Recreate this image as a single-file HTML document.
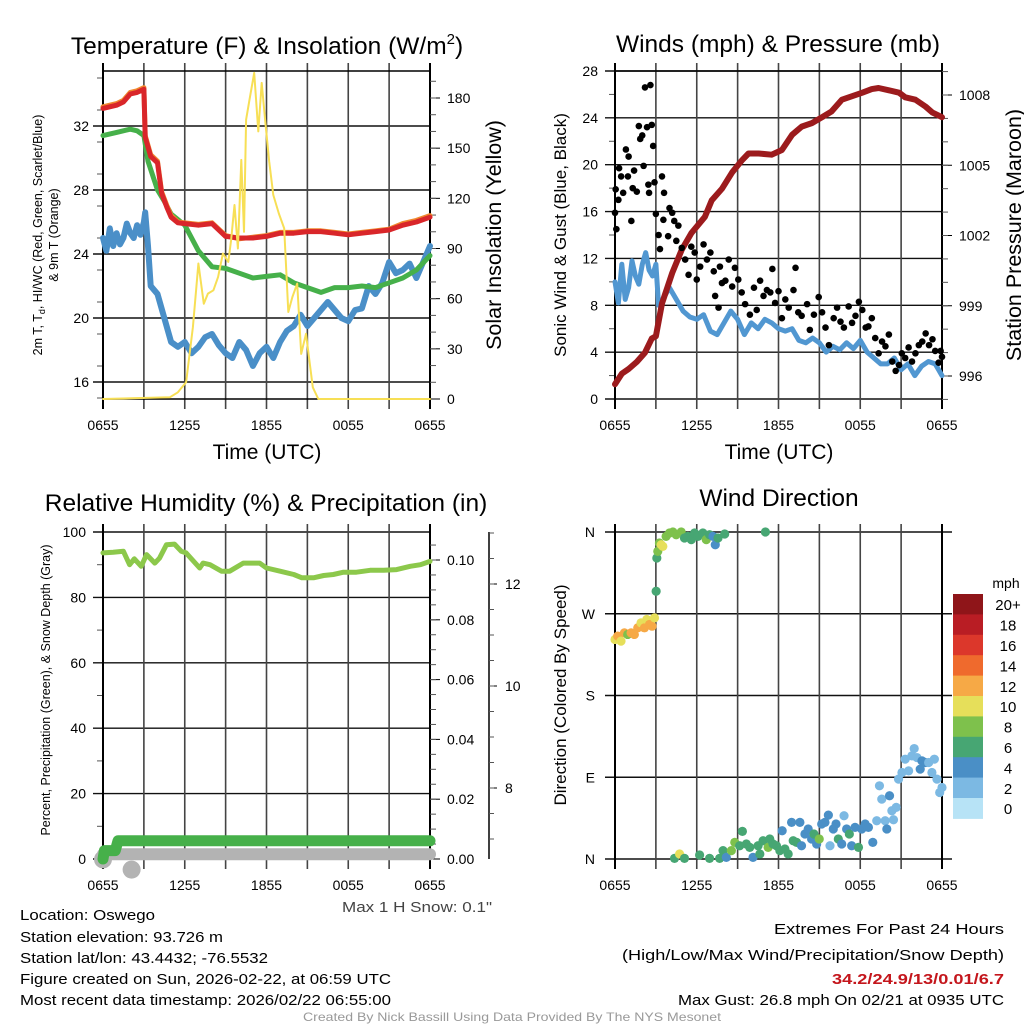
<!DOCTYPE html>
<html><head><meta charset="utf-8">
<style>
html,body{margin:0;padding:0;background:#fff;}
svg{display:block;font-family:"Liberation Sans",sans-serif;}
</style></head>
<body>
<svg id="fig" width="1024" height="1024" viewBox="0 0 1024 1024" xmlns="http://www.w3.org/2000/svg">
<rect x="0" y="0" width="1024" height="1024" fill="#fff"/>
<g id="layer"></g>
<text x="267" y="54" font-size="24.5" text-anchor="middle">Temperature (F) &amp; Insolation (W/m<tspan font-size="15" dy="-10">2</tspan><tspan dy="10">)</tspan></text>
<text x="778" y="52" font-size="24.5" text-anchor="middle">Winds (mph) &amp; Pressure (mb)</text>
<text x="266" y="511" font-size="24.5" text-anchor="middle">Relative Humidity (%) &amp; Precipitation (in)</text>
<text x="779" y="506" font-size="24.5" text-anchor="middle">Wind Direction</text>
<text x="267" y="459" font-size="21" text-anchor="middle">Time (UTC)</text>
<text x="779" y="459" font-size="21" text-anchor="middle">Time (UTC)</text>
<text transform="translate(42,235) rotate(-90)" font-size="12.5" text-anchor="middle">2m T, T<tspan font-size="9" dy="3">d</tspan><tspan dy="-3">, HI/WC (Red, Green, Scarlet/Blue)</tspan></text>
<text transform="translate(58,235) rotate(-90)" font-size="12.5" text-anchor="middle">&amp; 9m T (Orange)</text>
<text transform="translate(501,235) rotate(-90)" font-size="21.5" text-anchor="middle">Solar Insolation (Yellow)</text>
<text transform="translate(566,235) rotate(-90)" font-size="17" text-anchor="middle">Sonic Wind &amp; Gust (Blue, Black)</text>
<text transform="translate(1021,235) rotate(-90)" font-size="21.5" text-anchor="middle">Station Pressure (Maroon)</text>
<text transform="translate(50,690) rotate(-90)" font-size="12.5" text-anchor="middle">Percent, Precipitation (Green), &amp; Snow Depth (Gray)</text>
<text transform="translate(566,695) rotate(-90)" font-size="17" text-anchor="middle">Direction (Colored By Speed)</text>
<text x="1006" y="588" font-size="14" text-anchor="middle">mph</text>
<g font-size="14.5" fill="#000">
<text x="20" y="920" textLength="135" lengthAdjust="spacingAndGlyphs">Location: Oswego</text>
<text x="20" y="942" textLength="203" lengthAdjust="spacingAndGlyphs">Station elevation: 93.726 m</text>
<text x="20" y="963" textLength="248" lengthAdjust="spacingAndGlyphs">Station lat/lon: 43.4432; -76.5532</text>
<text x="20" y="984" textLength="371" lengthAdjust="spacingAndGlyphs">Figure created on Sun, 2026-02-22, at 06:59 UTC</text>
<text x="20" y="1005" textLength="371" lengthAdjust="spacingAndGlyphs">Most recent data timestamp: 2026/02/22 06:55:00</text>
<text x="774" y="934" textLength="230" lengthAdjust="spacingAndGlyphs">Extremes For Past 24 Hours</text>
<text x="622" y="960" textLength="382" lengthAdjust="spacingAndGlyphs">(High/Low/Max Wind/Precipitation/Snow Depth)</text>
<text x="832" y="984" textLength="172" lengthAdjust="spacingAndGlyphs" fill="#c4161c" font-weight="bold">34.2/24.9/13/0.01/6.7</text>
<text x="678" y="1005" textLength="326" lengthAdjust="spacingAndGlyphs">Max Gust: 26.8 mph On 02/21 at 0935 UTC</text>
<text x="342" y="912" textLength="150" lengthAdjust="spacingAndGlyphs" fill="#444">Max 1 H Snow: 0.1"</text>
</g>
<text x="303" y="1021" font-size="12" fill="#999" textLength="418" lengthAdjust="spacingAndGlyphs">Created By Nick Bassill Using Data Provided By The NYS Mesonet</text>
</svg>
<script>
// ---------- DATA ----------
const timeTicks = ["0655","1255","1855","0055","0655"];
// Temperature panel
const tRedH = [0,1,1.5,2,2.5,3,3.1,3.5,4,4.3,4.7,5,5.5,6,7,8,9,10,11,12,13,14,15,16,17,18,19,20,21,22,23,24];
const tRed  = [33.1,33.3,33.5,34.0,34.1,34.3,31.3,30.1,29.7,27.8,26.9,26.3,25.95,25.9,25.8,25.9,25.1,25.0,25.0,25.1,25.3,25.3,25.4,25.4,25.3,25.2,25.3,25.4,25.5,25.8,26.0,26.3];
const tOrange = [33.2,33.4,33.6,34.1,34.2,34.4,31.4,30.2,29.8,27.9,27.0,26.4,26.0,25.95,25.85,25.95,25.15,24.95,25.05,25.15,25.35,25.35,25.45,25.45,25.35,25.25,25.35,25.45,25.55,25.9,26.1,26.4];
const tGreenH = [0,1,2,2.5,3,3.3,4,4.5,5,6,7,8,9,10,11,12,13,14,15,16,17,18,19,20,21,22,23,24];
const tGreen  = [31.4,31.6,31.8,31.7,31.4,29.8,28.0,27.3,26.5,25.8,24.2,23.2,23.1,22.8,22.5,22.6,22.7,22.2,21.9,21.6,21.9,21.9,22.0,21.9,22.2,22.5,23.0,23.9];
const tBlueH = [0,0.25,0.5,0.75,1,1.25,1.5,1.75,2,2.25,2.5,2.75,3,3.1,3.3,3.5,4,4.5,5,5.5,6,6.5,7,7.5,8,8.5,9,9.5,10,10.5,11,11.5,12,12.5,13,13.5,14,14.5,15,15.5,16,16.5,17,17.5,18,18.5,19,19.5,20,20.5,21,21.5,22,22.5,23,23.5,24];
const tBlue  = [25.0,24.2,25.6,24.5,25.3,24.6,25.0,25.9,25.3,25.0,25.8,25.2,26.0,26.6,24.5,22.0,21.5,20.0,18.5,18.2,18.5,17.8,18.2,18.8,19.0,18.3,17.8,17.5,18.5,18.0,17.0,17.8,18.2,17.5,18.5,19.2,19.5,20.2,19.5,20.0,20.5,21.0,20.5,20.0,19.8,20.5,20.6,22.0,21.5,22.2,23.5,22.8,23.0,23.4,22.5,23.5,24.5];
const solarH = [0,4.9,5.5,6.1,6.6,7.0,7.4,7.7,8.1,8.45,8.8,9.2,9.4,9.65,9.9,10.15,10.35,10.5,10.75,11.1,11.4,11.65,11.9,12.2,12.5,12.9,13.3,13.6,13.9,14.25,14.55,14.9,15.4,15.8,24];
const solar  = [0,1,4,10,43,81,57,63,65,73,87,82,95,116,90,143,100,167,179,195,160,189,167,142,122,111,102,52,61,69,27,39,7,0,0];
const tempTicks = [16,20,24,28,32];
const solarTicks = [0,30,60,90,120,150,180];
// Wind panel
const windH = [0,0.25,0.5,0.75,1,1.25,1.5,1.75,2,2.25,2.5,2.75,3,3.2,3.5,4,4.5,5,5.5,6,6.5,7,7.5,8,8.5,9,9.5,10,10.5,11,11.5,12,12.5,13,13.5,14,14.5,15,15.5,16,16.5,17,17.5,18,18.5,19,19.5,20,20.5,21,21.5,22,22.5,23,23.5,24];
const windSpd = [10,8.2,11.5,8.5,9.5,11.8,10.5,9.8,11.5,12.5,11,10.5,11.5,8,8.5,9.5,8.5,7.5,7,6.8,7.2,5.8,5.5,6.5,7.5,6.8,5.5,6.5,6,6.8,6.5,6,5.8,6,5,4.8,5.2,4.8,4,4.5,4.2,4.8,4.3,5,4,3.5,3,3,3.5,2.5,3,2,2.8,3.2,3,2];
const gustH = [0,0.05,0.1,0.25,0.3,0.45,0.6,0.8,0.95,1.0,1.2,1.3,1.4,1.6,1.75,1.85,2.0,2.1,2.2,2.35,2.45,2.5,2.6,2.7,2.8,2.9,3.0,3.2,3.3,3.45,3.55,3.6,3.9,4.0,4.2,4.35,4.5,4.65,4.9,5.15,5.4,5.6,5.85,6.0,6.25,6.5,6.75,7.0,7.25,7.35,7.6,7.7,7.85,8.1,8.35,8.6,8.8,9.05,9.3,9.55,9.9,10.2,10.4,10.65,10.9,11.15,11.4,11.55,11.75,12.0,12.25,12.5,12.75,13.1,13.25,13.45,13.7,14.1,14.3,14.6,14.95,15.2,15.45,15.7,16.05,16.3,16.55,16.8,17.15,17.4,17.65,17.9,18.15,18.4,18.6,18.85,19.1,19.35,19.6,19.85,20.1,20.35,20.6,20.85,21.05,21.3,21.55,21.8,22.05,22.3,22.55,22.8,23.05,23.3,23.5,23.75,23.9,24];
const gust  = [15.9,17.9,14.5,17,19.7,19,17.6,21.3,19,20.7,15.2,18,19.5,17.7,23.3,22.2,22.5,19.9,26.6,23.2,18.3,17.6,26.8,23.4,21.6,18.5,15.8,14,12.8,19,15.3,17.6,13.9,16.3,15.9,15.2,13.5,14.8,12.9,11.9,10.6,13,12.5,10.2,11.3,13.2,11.9,12.5,10.9,8.8,7.8,11.3,9.9,10.1,11.9,9.6,11.2,10.2,9.1,8.1,7.2,9.5,7.6,10.1,8.8,9.3,9.1,11.1,8.2,9.2,6.9,8.5,7.8,9.3,11.2,7.4,7.1,8.1,5.9,7.2,8.7,7.4,6.1,4.6,6.9,7.8,6.6,6.1,7.9,6.5,7.1,8.3,7.6,6.1,6.2,6.9,5.2,3.9,4.9,4.5,5.5,3.2,2.4,2.9,3.9,3.5,4.4,3.2,3.9,4.6,4.9,5.6,4.6,5.1,4.1,3.1,4.1,3.6];
const presH = [0,0.5,1.0,1.6,2.2,2.7,3.0,3.45,4.2,4.9,5.6,6.6,7.1,7.85,8.6,9.3,9.8,10.55,11.5,12.25,13.0,13.7,14.45,15.2,15.9,16.65,17.4,18.15,18.85,19.35,20.1,20.85,21.3,22.05,22.8,23.3,24];
const pres  = [995.65,996.1,996.3,996.6,997.0,997.6,997.7,999.1,1000.4,1001.4,1002.1,1002.8,1003.5,1004.0,1004.7,1005.2,1005.5,1005.5,1005.45,1005.65,1006.3,1006.65,1006.8,1007.05,1007.3,1007.8,1007.95,1008.1,1008.25,1008.3,1008.2,1008.1,1007.9,1007.8,1007.5,1007.25,1007.05];
const windTicks = [0,4,8,12,16,20,24,28];
const presTicks = [996,999,1002,1005,1008];
// RH panel
const rhH = [0,0.75,1.5,1.95,2.3,2.8,3.2,3.8,4.15,4.65,5.25,5.75,6.1,7.1,7.35,7.85,8.7,9.3,10.3,11.5,12,13,14,14.6,15.45,16.2,16.9,17.65,18.6,19.6,20.6,21.55,22.55,23.3,24];
const rh  = [93.6,93.8,94.1,90,91.8,89.5,93.1,90.5,92,96.1,96.3,94.1,93.6,89,90.5,90,88,88,90.5,90.5,89,88,87,86,86,86.7,87,87.7,87.7,88.3,88.3,88.5,89.5,90,91];
const precipH = [0,0.1,0.9,1.1,24];
const precip  = [0,0.0028,0.0028,0.0061,0.0061];
const snowH = [0,24];
const snow  = [6.7,6.7];
const snowBlobH = [0,2.1];
const snowBlob  = [6.6,6.4];
const rhTicks = [0,20,40,60,80,100];
const precipTicks = ["0.00","0.02","0.04","0.06","0.08","0.10"];
const snowTicks = [8,10,12];
// Wind direction panel
const dirH = [0,0.2,0.44,0.69,0.93,1.18,1.42,1.67,1.91,2.16,2.33,2.53,2.72,2.9,3.02,3.07,3.14,3.26,3.39,3.51,3.75,4.0,4.25,4.49,4.86,5.1,5.35,5.6,5.84,6.09,6.45,6.7,6.94,7.19,7.36,7.56,8.05,11.04,
 4.37,4.74,5.1,6.21,6.94,7.68,7.93,8.17,8.54,8.79,9.15,9.35,9.64,9.89,10.13,10.5,10.63,10.87,11.24,11.36,11.6,11.85,12.1,12.27,12.47,12.71,12.96,13.08,13.33,13.57,13.69,13.94,14.18,14.43,14.6,14.8,14.99,15.17,15.41,15.66,15.78,16.02,16.22,16.39,16.64,16.81,17.0,17.2,17.37,17.62,17.87,18.11,18.36,18.6,18.92,19.21,19.41,19.58,19.83,19.95,20.15,20.32,20.44,20.64,20.81,21.06,21.3,21.55,21.79,21.96,22.16,22.4,22.53,22.77,23.02,23.26,23.44,23.63,23.83,24];
const dirDeg = [241.7,245.4,239.9,249,247.2,249,247.2,254.5,260,254.5,263.7,258.2,256.3,265.5,294.8,331.4,338.7,347.9,346,344.2,355.2,358.9,360,357,360,353.4,355.2,351.6,358.9,355.2,358.9,351.6,357,355.2,346,353.4,357.8,360,
 0.7,5.5,0.7,4.4,0.7,0.7,9.2,1.8,9.2,18.3,14.6,30.4,16.5,12.8,1.8,14.6,5.5,20.1,12.8,22,16.5,14.6,9.2,31.1,11,5.5,40.3,20.1,18.3,40.3,14.6,27.5,33,22,27.5,16.5,22,38.5,40.3,48.3,14.6,33,38.5,22,16.5,47.6,33,27.5,14.6,34.8,12.8,33,38.5,34.8,18.3,42.1,80.6,65.9,42.1,33,69.6,53.1,43.2,56.8,87.9,95.2,109.9,97,113.5,121.6,111.7,98.9,108,106.2,106.2,95.2,109.9,87.9,73.2,78.7];
const dirSpd = [10,12,10,12,8,12,12,12,10,12,10,12,12,10,7,7,8,9,10,10,9,8,8,9,8,7,7,7,6,6,6,8,6,5,4,6,6,6,
 7,10,7,6,6,6,6,4,8,8,6,6,6,6,4,6,6,6,8,6,6,6,6,4,6,6,4,6,7,4,4,4,4,4,6,4,8,4,4,4,3,4,4,6,4,3,4,7,4,4,6,4,4,4,4,3,3,3,3,4,4,3,3,3,3,3,3,3,3,3,3,4,4,4,3,3,3,3,3,3];
const dirTicks = ["N","E","S","W","N"];
const speedBins = ["0","2","4","6","8","10","12","14","16","18","20+"];
const speedColors = ["#b7e3f6","#7cb9e3","#4a8fc6","#47a673","#7ec14c","#e6df5a","#f6a946","#ef6a2d","#dc372b","#b91d24","#8f1519"];

// ---------- DRAWING ----------
const NS = "http://www.w3.org/2000/svg";
const layer = document.getElementById("layer");
function mk(tag, attrs, name, parent) {
  const e = document.createElementNS(NS, tag);
  for (const k in attrs) e.setAttribute(k, attrs[k]);
  
  
  (parent || layer).appendChild(e);
  return e;
}
function lin(d0, d1, r0, r1) { return v => r0 + (v - d0) / (d1 - d0) * (r1 - r0); }

function panel(px0, px1, py0, py1, prefix) {
  const xs = lin(0, 24, px0, px1);
  for (let h = 0; h <= 24; h += 3) {
    const x = xs(h);
    mk('line', {x1:x, y1:py0-8, x2:x, y2:py1+10, stroke: (h===0||h===24)?'#000':'#444', 'stroke-width': (h===0||h===24)?2:1.6}, prefix+'-vgrid-'+h);
  }
  timeTicks.forEach((t, i) => {
    const tx = mk('text', {x: xs(i*6), y: py1+31, 'font-size':14, 'text-anchor':'middle'}, prefix+'-time-tick-label');
    tx.textContent = t;
  });
  return xs;
}
function hgrid(px0, px1, y, name, tickLeft) {
  mk('line', {x1: px0 - (tickLeft||0), y1:y, x2:px1, y2:y, stroke:'#111', 'stroke-width':1.4}, name);
}
function path(xsArr, ysArr, xs, ys, stroke, w, name, cap) {
  let d = '';
  xsArr.forEach((h, i) => { d += (i ? 'L' : 'M') + xs(h).toFixed(1) + ',' + ys(ysArr[i]).toFixed(1); });
  mk('path', {d:d, fill:'none', stroke:stroke, 'stroke-width':w, 'stroke-linejoin':'round', 'stroke-linecap':cap||'round'}, name);
}

// ----- Temperature panel -----
(function(){
  const x0=103,x1=430,y0=71,y1=399;
  const ys = lin(16, 32, 382, 126);
  const ysSolar = lin(0, 180, 399, 98);
  tempTicks.forEach(v => {
    hgrid(x0, x1, ys(v), 'temp-hgrid-'+v, 10);
    const t = mk('text', {x: x0-14, y: ys(v)+5, 'font-size':14, 'text-anchor':'end'}, 'temp-tick-label');
    t.textContent = v;
  });
  for (let v = 15; v <= 35; v += 2) mk('line', {x1:x0-6, y1:ys(v), x2:x0, y2:ys(v), stroke:'#555'}, 'temp-minor-tick');
  const xs = panel(x0, x1, y0, y1, 'temp');
  mk('line', {x1:x0, y1:y0, x2:x1, y2:y0, stroke:'#000', 'stroke-width':1.5}, 'temp-frame-top');
  mk('line', {x1:x0, y1:y1, x2:x1, y2:y1, stroke:'#000', 'stroke-width':1.5}, 'temp-frame-bottom');
  solarTicks.forEach(v => {
    mk('line', {x1:x1, y1:ysSolar(v), x2:x1+10, y2:ysSolar(v), stroke:'#000'}, 'solar-tick');
    const t = mk('text', {x: x1+17, y: ysSolar(v)+5, 'font-size':14}, 'solar-tick-label');
    t.textContent = v;
  });
  for (let v = 10; v <= 190; v += 10) mk('line', {x1:x1, y1:ysSolar(v), x2:x1+6, y2:ysSolar(v), stroke:'#555'}, 'solar-minor-tick');
  path(tBlueH, tBlue, xs, ys, '#4a8fc8', 6, 'wind-chill-line');
  path(tGreenH, tGreen, xs, ys, '#46b04a', 5, 'dewpoint-line');
  path(tRedH, tOrange, xs, ys, '#f0892f', 5, 'temp-9m-line');
  path(tRedH, tRed, xs, ys, '#d9262a', 5, 'temp-2m-line');
  path(solarH, solar, xs, ysSolar, '#f7df55', 2, 'solar-line');
})();

// ----- Wind panel -----
(function(){
  const x0=615,x1=942,y0=71,y1=399;
  const ys = lin(0, 28, 399, 71);
  const ysP = lin(996, 1008, 376, 95);
  windTicks.forEach(v => {
    hgrid(x0, x1, ys(v), 'wind-hgrid-'+v, 10);
    const t = mk('text', {x: x0-17, y: ys(v)+5, 'font-size':14, 'text-anchor':'end'}, 'wind-tick-label');
    t.textContent = v;
  });
  for (let v = 2; v <= 26; v += 4) mk('line', {x1:x0-6, y1:ys(v), x2:x0, y2:ys(v), stroke:'#555'}, 'wind-minor-tick');
  const xs = panel(x0, x1, y0, y1, 'wind');
  mk('line', {x1:x0, y1:y0, x2:x1, y2:y0, stroke:'#000', 'stroke-width':1.5}, 'wind-frame-top');
  presTicks.forEach(v => {
    mk('line', {x1:x1, y1:ysP(v), x2:x1+10, y2:ysP(v), stroke:'#000'}, 'pressure-tick');
    const t = mk('text', {x: x1+17, y: ysP(v)+5, 'font-size':14}, 'pressure-tick-label');
    t.textContent = v;
  });
  for (let v = 995; v <= 1009; v += 1) mk('line', {x1:x1, y1:ysP(v), x2:x1+6, y2:ysP(v), stroke:'#555'}, 'pressure-minor-tick');
  path(windH, windSpd, xs, ys, '#5197d1', 5, 'sonic-wind-line');
  path(presH, pres, xs, ysP, '#9c1b1d', 6, 'pressure-line');
  gustH.forEach((h, i) => {
    mk('circle', {cx: xs(h), cy: ys(gust[i]), r: 3.3, fill:'#000'}, 'gust-point');
  });
})();

// ----- RH panel -----
(function(){
  const x0=103,x1=430,y0=532,y1=859;
  const ys = lin(0, 100, 859, 532);
  const ysPr = lin(0, 0.10, 859, 560);
  const ysSn = lin(8, 12, 788, 584);
  rhTicks.forEach(v => {
    hgrid(x0, x1, ys(v), 'rh-hgrid-'+v, 10);
    const t = mk('text', {x: x0-17, y: ys(v)+5, 'font-size':14, 'text-anchor':'end'}, 'rh-tick-label');
    t.textContent = v;
  });
  for (let v = 10; v <= 90; v += 20) mk('line', {x1:x0-6, y1:ys(v), x2:x0, y2:ys(v), stroke:'#555'}, 'rh-minor-tick');
  const xs = panel(x0, x1, y0, y1, 'rh');
  precipTicks.forEach(v => {
    const y = ysPr(parseFloat(v));
    mk('line', {x1:x1, y1:y, x2:x1+10, y2:y, stroke:'#000'}, 'precip-tick');
    const t = mk('text', {x: x1+17, y: y+5, 'font-size':14}, 'precip-tick-label');
    t.textContent = v;
  });
  for (let v = 0.005; v <= 0.11; v += 0.005) mk('line', {x1:x1, y1:ysPr(v), x2:x1+6, y2:ysPr(v), stroke:'#555'}, 'precip-minor-tick');
  mk('line', {x1:489, y1:532, x2:489, y2:859, stroke:'#000', 'stroke-width':1.5}, 'snow-axis-line');
  snowTicks.forEach(v => {
    mk('line', {x1:489, y1:ysSn(v), x2:497, y2:ysSn(v), stroke:'#000'}, 'snow-tick');
    const t = mk('text', {x: 505, y: ysSn(v)+5, 'font-size':14}, 'snow-tick-label');
    t.textContent = v;
  });
  for (let v = 7; v <= 13; v += 0.5) mk('line', {x1:489, y1:ysSn(v), x2:494, y2:ysSn(v), stroke:'#555'}, 'snow-minor-tick');
  path(snowH, snow, xs, ysSn, '#b3b3b3', 12, 'snow-depth-line');
  snowBlobH.forEach((h, i) => {
    mk('circle', {cx: xs(h), cy: ysSn(snowBlob[i]), r: 9, fill:'#b3b3b3'}, 'snow-depth-point');
  });
  path(precipH, precip, xs, ysPr, '#46b04a', 11, 'precip-line');
  path(rhH, rh, xs, ys, '#8cc84b', 5, 'rh-line');
})();

// ----- Wind direction panel -----
(function(){
  const x0=615,x1=942,y0=532,y1=859;
  const ys = lin(0, 360, 859, 532);
  dirTicks.forEach((lab, i) => {
    const y = ys(i*90);
    hgrid(x0, x1+10, y, 'dir-hgrid-'+i, 10);
    const t = mk('text', {x: x0-20, y: y+5, 'font-size':14, 'text-anchor':'end'}, 'dir-tick-label');
    t.textContent = lab;
  });
  const xs = panel(x0, x1, y0, y1, 'dir');
  dirH.forEach((h, i) => {
    if (dirDeg[i] === undefined || dirSpd[i] === undefined) return;
    const bin = Math.min(10, Math.floor(dirSpd[i] / 2));
    mk('circle', {cx: xs(h), cy: ys(dirDeg[i]), r: 4.6, fill: speedColors[bin]}, 'direction-point');
  });
  const bx = 953, bw = 30, bTop = 594, bh = 20.4;
  speedBins.forEach((lab, i) => {
    const idx = speedBins.length - 1 - i;
    mk('rect', {x: bx, y: bTop + i*bh, width: bw, height: bh+0.5, fill: speedColors[idx]}, 'colorbar-box');
    const t = mk('text', {x: 1008, y: bTop + i*bh + bh/2 + 6, 'font-size':15, 'text-anchor':'middle'}, 'colorbar-label');
    t.textContent = speedBins[idx];
  });
})();
</script>
</body></html>
